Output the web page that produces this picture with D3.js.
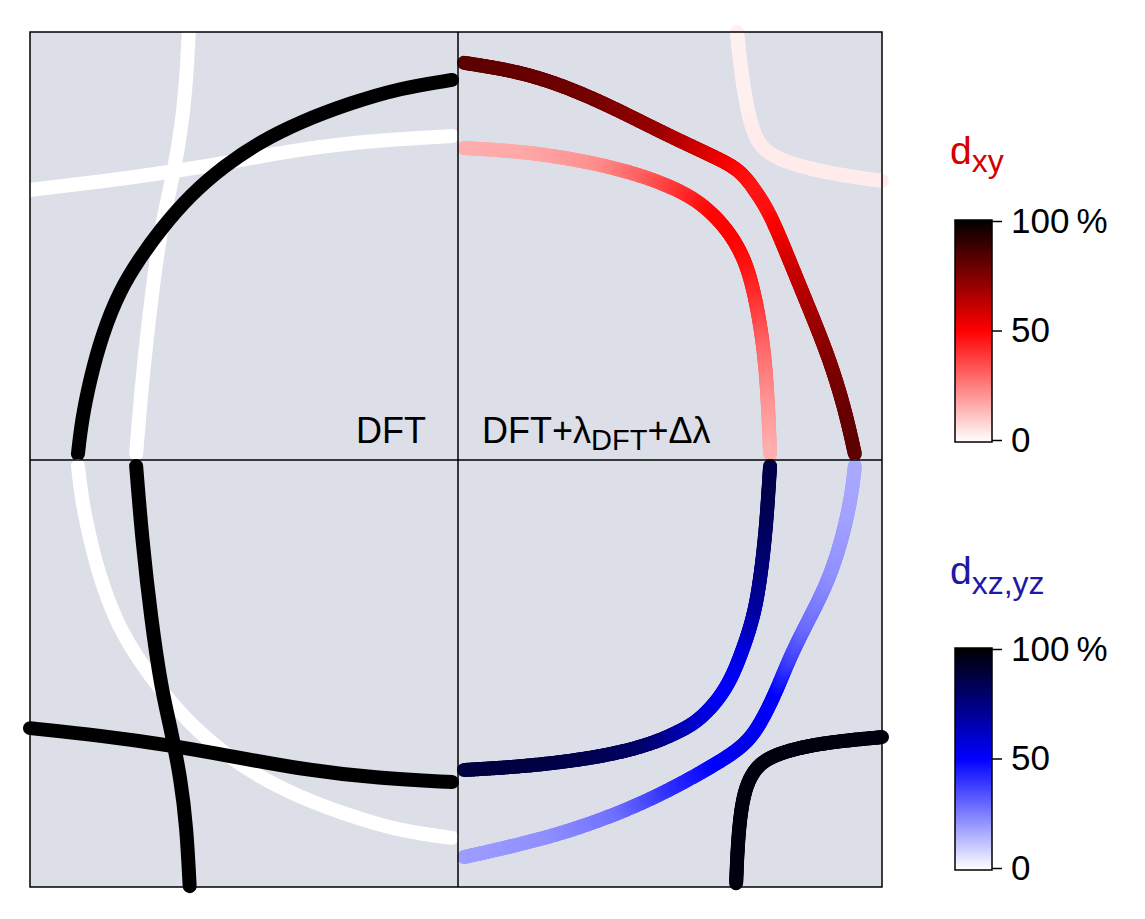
<!DOCTYPE html>
<html>
<head>
<meta charset="utf-8">
<script src="https://cdn.jsdelivr.net/npm/d3@7"></script>
<style>
  body { margin: 0; background: #fff; }
  text { font-family: "Liberation Sans", Arial, sans-serif; }
</style>
</head>
<body>
<svg id="chart" width="1145" height="919"></svg>
<script>
// k-space points [kx, ky] in units of the zone edge
// DFT, upper-left quadrant
var dftOuterUp = [[-0.888,0.014],[-0.879,0.093],[-0.860,0.187],[-0.832,0.292],[-0.790,0.397],[-0.743,0.472],[-0.696,0.537],[-0.626,0.619],[-0.544,0.689],[-0.463,0.743],[-0.369,0.790],[-0.252,0.834],[-0.135,0.869],[-0.014,0.888]];
var dftLineHUp = [[-1.000,0.631],[-0.836,0.650],[-0.673,0.673],[-0.533,0.696],[-0.369,0.727],[-0.182,0.748],[-0.014,0.757]];
var dftLineVUp = [[-0.629,1.000],[-0.636,0.864],[-0.650,0.748],[-0.673,0.631],[-0.696,0.533],[-0.717,0.374],[-0.738,0.187],[-0.752,0.014]];
// DFT, lower-left quadrant
var dftOuterDn = [[-0.888,-0.014],[-0.879,-0.093],[-0.860,-0.187],[-0.832,-0.292],[-0.790,-0.397],[-0.743,-0.472],[-0.696,-0.537],[-0.626,-0.619],[-0.544,-0.689],[-0.463,-0.743],[-0.369,-0.790],[-0.252,-0.834],[-0.135,-0.869],[-0.014,-0.885]];
var dftLineHDn = [[-1.000,-0.628],[-0.836,-0.645],[-0.673,-0.668],[-0.533,-0.693],[-0.369,-0.724],[-0.182,-0.746],[-0.014,-0.754]];
var dftLineVDn = [[-0.627,-0.998],[-0.634,-0.862],[-0.648,-0.746],[-0.671,-0.629],[-0.694,-0.531],[-0.717,-0.372],[-0.738,-0.187],[-0.752,-0.014]];

// DFT+lambda, upper-right: d_xy weight (%)
var xyOuter = [[0.014,0.928],[0.170,0.904],[0.328,0.843],[0.483,0.764],[0.606,0.708],[0.665,0.678],[0.700,0.631],[0.736,0.577],[0.783,0.463],[0.830,0.350],[0.877,0.234],[0.913,0.117],[0.936,0.014]];
var xyOuterW = [82,80,77,70,56,49,46,47,58,67,74,79,82];
var xyInner = [[0.014,0.729],[0.170,0.720],[0.335,0.692],[0.453,0.659],[0.547,0.619],[0.606,0.572],[0.653,0.514],[0.684,0.449],[0.705,0.362],[0.722,0.257],[0.731,0.140],[0.736,0.014]];
var xyInnerW = [16,17,22,32,42,49,50,47,40,30,22,16];
var xyCorner = [[0.658,1.000],[0.667,0.911],[0.682,0.818],[0.700,0.752],[0.731,0.713],[0.807,0.685],[0.901,0.666],[1.000,0.652]];
var xyCornerW = [3,3,3,4,4,4,4,4];

// DFT+lambda, lower-right: d_xz,yz weight (%)
var xzInner = [[0.014,-0.726],[0.170,-0.717],[0.335,-0.696],[0.453,-0.667],[0.524,-0.635],[0.571,-0.609],[0.634,-0.539],[0.672,-0.445],[0.705,-0.344],[0.724,-0.187],[0.731,-0.094],[0.736,-0.014]];
var xzInnerW = [87,87,84,79,68,60,50,55,68,80,84,86];
var xzOuter = [[0.014,-0.930],[0.224,-0.883],[0.382,-0.827],[0.500,-0.773],[0.618,-0.707],[0.677,-0.667],[0.712,-0.621],[0.752,-0.539],[0.783,-0.461],[0.823,-0.382],[0.884,-0.265],[0.925,-0.110],[0.936,-0.014]];
var xzOuterW = [19,22,28,40,50,54,52,50,38,29,22,18,17];
var xzCorner = [[0.656,-0.991],[0.660,-0.890],[0.670,-0.796],[0.689,-0.738],[0.724,-0.698],[0.807,-0.672],[0.901,-0.658],[1.000,-0.649]];
var xzCornerW = [97,97,97,97,97,97,97,97];

var barTicks = [0, 50, 100];
var barTickLabels = ["0", "50", "100\u2009%"];

// scales
var xScale = d3.scaleLinear().domain([-1, 0, 1]).range([30, 458, 882]);
var yScale = d3.scaleLinear().domain([-1, 0, 1]).range([887, 460, 32]);
var xyColor = d3.scaleLinear().domain([0, 50, 100]).range(["#ffffff", "#ff0000", "#000000"]);
var xzColor = d3.scaleLinear().domain([0, 50, 100]).range(["#ffffff", "#0000ff", "#000000"]);

var svg = d3.select("#chart");
var lineW = 14;

// panel background
svg.append("rect")
    .attr("x", xScale(-1)).attr("y", yScale(1))
    .attr("width", xScale(1) - xScale(-1))
    .attr("height", yScale(-1) - yScale(1))
    .attr("fill", "#dcdfe8");

var g = svg.append("g");

var fncLine = d3.line()
    .x(function(d) { return xScale(d[0]); })
    .y(function(d) { return yScale(d[1]); })
    .curve(d3.curveBasis);

// plain DFT band
function drawSolid(pts, col) {
    g.append("path")
        .attr("d", fncLine(pts))
        .attr("fill", "none")
        .attr("stroke", col)
        .attr("stroke-width", lineW)
        .attr("stroke-linecap", "round")
        .attr("stroke-linejoin", "round");
}

// band coloured by orbital weight along its length
function drawWeighted(pts, ws, color) {
    var tmp = g.append("path").attr("d", fncLine(pts)).attr("fill", "none");
    var node = tmp.node();
    var L = node.getTotalLength();
    var cum = [0];
    for (var i = 1; i < pts.length; i++) {
        var dx = xScale(pts[i][0]) - xScale(pts[i-1][0]);
        var dy = yScale(pts[i][1]) - yScale(pts[i-1][1]);
        cum.push(cum[i-1] + Math.sqrt(dx*dx + dy*dy));
    }
    var C = cum[cum.length - 1];
    var n = Math.ceil(L / 2);
    var samples = d3.range(n + 1).map(function(k) {
        var p = node.getPointAtLength(L * k / n);
        var t = C * k / n;
        var j = Math.max(0, Math.min(d3.bisectRight(cum, t) - 1, cum.length - 2));
        var f = (t - cum[j]) / (cum[j+1] - cum[j]);
        return {x: p.x, y: p.y, w: ws[j] + (ws[j+1] - ws[j]) * f};
    });
    tmp.remove();
    g.append("g").selectAll("line")
        .data(d3.pairs(samples))
        .enter()
        .append("line")
        .attr("x1", function(d) { return d[0].x; })
        .attr("y1", function(d) { return d[0].y; })
        .attr("x2", function(d) { return d[1].x; })
        .attr("y2", function(d) { return d[1].y; })
        .attr("stroke", function(d) { return color((d[0].w + d[1].w) / 2); })
        .attr("stroke-width", lineW)
        .attr("stroke-linecap", "round");
}

// left half: DFT
drawSolid(dftLineHUp, "#ffffff");
drawSolid(dftLineVUp, "#ffffff");
drawSolid(dftOuterUp, "#000000");
drawSolid(dftOuterDn, "#ffffff");
drawSolid(dftLineHDn, "#000000");
drawSolid(dftLineVDn, "#000000");

// right half: DFT + lambda
drawWeighted(xyCorner, xyCornerW, xyColor);
drawWeighted(xyOuter, xyOuterW, xyColor);
drawWeighted(xyInner, xyInnerW, xyColor);
drawWeighted(xzCorner, xzCornerW, xzColor);
drawWeighted(xzOuter, xzOuterW, xzColor);
drawWeighted(xzInner, xzInnerW, xzColor);

// quadrant dividers and frame
svg.append("line")
    .attr("x1", xScale(0)).attr("x2", xScale(0))
    .attr("y1", yScale(1)).attr("y2", yScale(-1))
    .attr("stroke", "#000").attr("stroke-width", 1.5);
svg.append("line")
    .attr("x1", xScale(-1)).attr("x2", xScale(1))
    .attr("y1", yScale(0)).attr("y2", yScale(0))
    .attr("stroke", "#000").attr("stroke-width", 1.5);
svg.append("rect")
    .attr("x", xScale(-1)).attr("y", yScale(1))
    .attr("width", xScale(1) - xScale(-1))
    .attr("height", yScale(-1) - yScale(1))
    .attr("fill", "none").attr("stroke", "#000").attr("stroke-width", 1.5);

// quadrant labels
svg.append("text")
    .attr("x", 426).attr("y", 443)
    .attr("text-anchor", "end")
    .attr("font-size", 36)
    .text("DFT");
var lab = svg.append("text")
    .attr("x", 482).attr("y", 443)
    .attr("font-size", 36);
lab.append("tspan").text("DFT+\u03bb");
lab.append("tspan").attr("font-size", 29).attr("dy", 7).text("DFT");
lab.append("tspan").attr("dy", -7).text("+\u0394\u03bb");

// colour bars
var defs = svg.append("defs");
function colorBar(id, color, top, bottom, title, titleCol, titleY, subDy) {
    var grad = defs.append("linearGradient")
        .attr("id", id)
        .attr("x1", 0).attr("y1", 1).attr("x2", 0).attr("y2", 0);
    grad.selectAll("stop")
        .data(d3.range(0, 101, 5))
        .enter()
        .append("stop")
        .attr("offset", function(d) { return d + "%"; })
        .attr("stop-color", function(d) { return color(d); });

    var bScale = d3.scaleLinear().domain([0, 100]).range([bottom - 2, top + 1]);
    svg.append("rect")
        .attr("x", 955).attr("y", top)
        .attr("width", 37).attr("height", bottom - top)
        .attr("fill", "url(#" + id + ")")
        .attr("stroke", "#000").attr("stroke-width", 1.5);

    var axis = d3.axisRight(bScale)
        .tickValues(barTicks)
        .tickSize(10)
        .tickPadding(9)
        .tickFormat(function(d, i) { return barTickLabels[i]; });
    var ax = svg.append("g")
        .attr("transform", "translate(992,0)")
        .call(axis);
    ax.select(".domain").remove();
    ax.selectAll(".tick line").attr("stroke", "#000").attr("stroke-width", 1.5);
    ax.selectAll(".tick text")
        .attr("font-family", "Liberation Sans, Arial, sans-serif")
        .attr("font-size", 35)
        .attr("fill", "#000");

    var t = svg.append("text")
        .attr("x", 950).attr("y", titleY)
        .attr("font-size", 39)
        .attr("fill", titleCol);
    t.append("tspan").text("d");
    t.append("tspan").attr("font-size", 32).attr("dy", subDy).text(title);
}
colorBar("gradXY", xyColor, 220, 442, "xy", "#d40000", 164, 8);
colorBar("gradXZ", xzColor, 648, 870, "xz,yz", "#1a1aa6", 584, 10);
</script>
</body>
</html>
